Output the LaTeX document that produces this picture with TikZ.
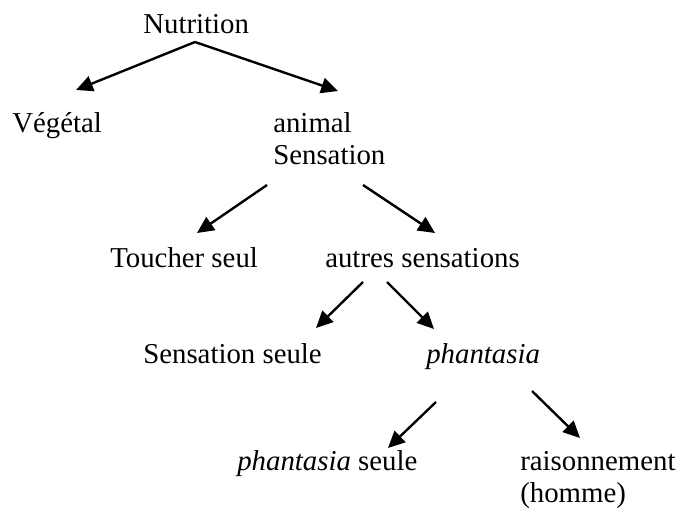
\documentclass[tikz,border=0pt]{standalone}
\usepackage{fontspec}
\setmainfont{Liberation Serif}
\usepackage{tikz}
\usetikzlibrary{arrows.meta}

\tikzset{
  lbl/.style={anchor=base west, inner sep=0pt, font=\fontsize{20.5}{24}\selectfont},
  arr/.style={-{Triangle[length=4.2mm,width=3.9mm]}, line width=1.7pt}
}

\begin{document}
\begin{tikzpicture}[x=0.25mm, y=-0.25mm]
\useasboundingbox (0,0) rectangle (681,511);
\node[lbl] (nutri) at (143,33) {Nutrition};
\node[lbl] (veg) at (12,132) {Végétal};
\node[lbl] (anim) at (273,132) {animal};
\node[lbl] (sens) at (273,164) {Sensation};
\node[lbl] (touch) at (110,267) {Toucher seul};
\node[lbl] (autres) at (325,267) {autres sensations};
\node[lbl] (sseule) at (143,363) {Sensation seule};
\node[lbl] (phant) at (426,363) {\textit{phantasia}};
\node[lbl] (pseule) at (237,470) {\textit{phantasia} seule};
\node[lbl] (raison) at (520,470) {raisonnement};
\node[lbl] (homme) at (520,502) {(homme)};

\coordinate (nutri-out) at (195,42);
\coordinate (veg-in) at (76,90);
\coordinate (anim-in) at (338,91);
\coordinate (sens-outl) at (267,185);
\coordinate (sens-outr) at (363,185);
\coordinate (touch-in) at (197,233);
\coordinate (autres-in) at (435,233);
\coordinate (autres-outl) at (363,282);
\coordinate (autres-outr) at (387,282);
\coordinate (sseule-in) at (316,328);
\coordinate (phant-in) at (434,329);
\coordinate (phant-outl) at (436,402);
\coordinate (phant-outr) at (532,391);
\coordinate (pseule-in) at (388,448);
\coordinate (raison-in) at (580,438);

\draw[arr] (nutri-out) -- (veg-in);
\draw[arr] (nutri-out) -- (anim-in);
\draw[arr] (sens-outl) -- (touch-in);
\draw[arr] (sens-outr) -- (autres-in);
\draw[arr] (autres-outl) -- (sseule-in);
\draw[arr] (autres-outr) -- (phant-in);
\draw[arr] (phant-outl) -- (pseule-in);
\draw[arr] (phant-outr) -- (raison-in);
\end{tikzpicture}
\end{document}
